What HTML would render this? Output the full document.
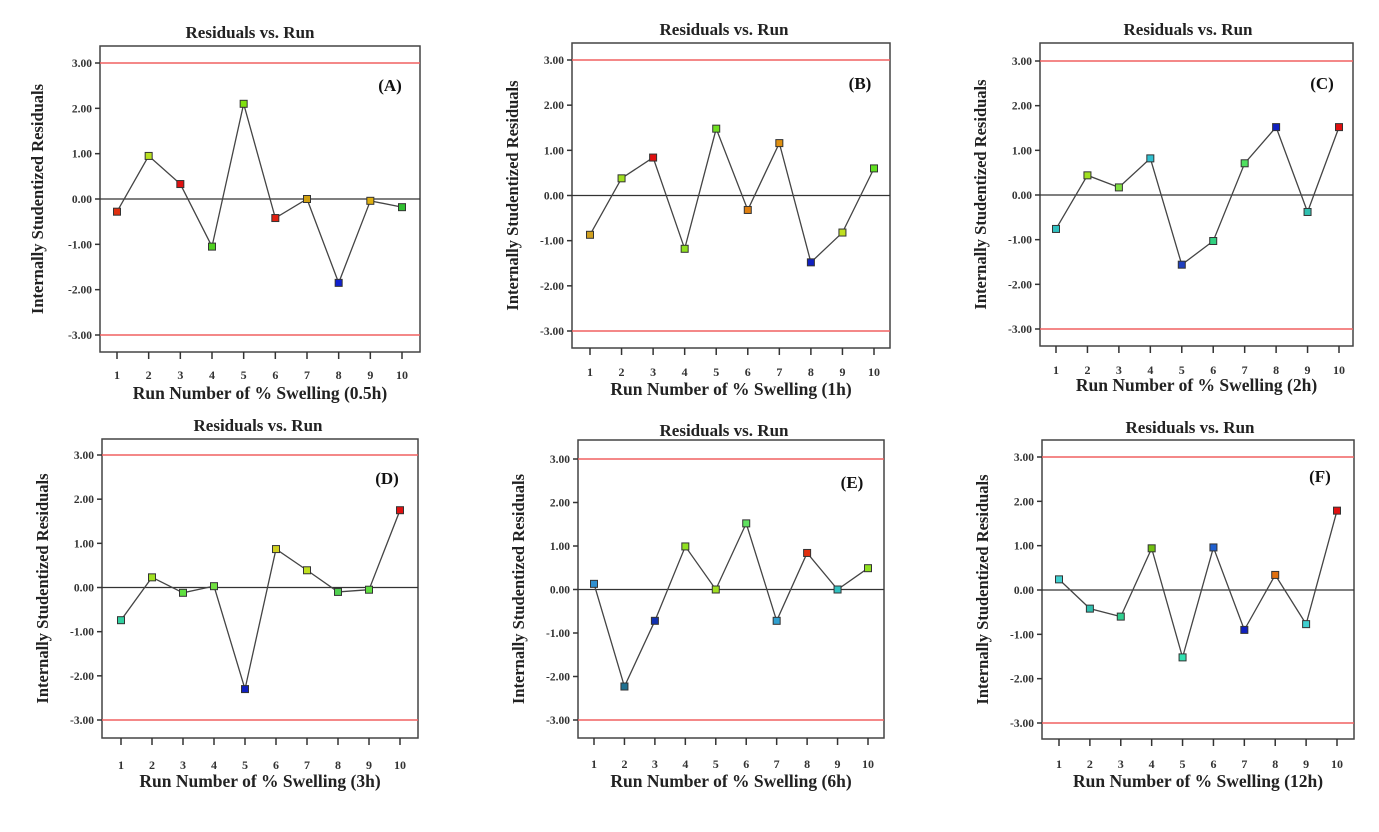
<!DOCTYPE html>
<html><head><meta charset="utf-8"><style>
body{margin:0;background:#fff;width:1379px;height:827px;overflow:hidden}
svg{font-family:"Liberation Serif",serif;font-weight:bold}
</style></head><body>
<svg id="s" width="1379" height="827"></svg>
<script>
const runs=[1,2,3,4,5,6,7,8,9,10];
const yTicks=[3,2,1,0,-1,-2,-3];
const yTickLabels=["3.00","2.00","1.00","0.00","-1.00","-2.00","-3.00"];
const resA=[-0.28,0.95,0.33,-1.05,2.1,-0.42,0,-1.85,-0.04,-0.18];
const resB=[-0.87,0.38,0.84,-1.18,1.48,-0.32,1.16,-1.48,-0.82,0.6];
const resC=[-0.76,0.44,0.17,0.82,-1.56,-1.03,0.71,1.52,-0.38,1.52];
const resD=[-0.74,0.23,-0.12,0.03,-2.3,0.87,0.39,-0.1,-0.05,1.75];
const resE=[0.13,-2.23,-0.72,0.99,0,1.52,-0.72,0.84,0,0.49];
const resF=[0.24,-0.42,-0.6,0.94,-1.52,0.96,-0.9,0.34,-0.77,1.79];
const colA=["#e03010","#b8e020","#e01010","#50d020","#80e010","#e02010","#d0a010","#1020d0","#e0b010","#30c030"];
const colB=["#d0a020","#a0e020","#e01010","#90e020","#70e020","#e08010","#e09010","#1020c0","#c0e020","#60e020"];
const colC=["#30c0c0","#a0e020","#80e040","#30c0d0","#2040c0","#30d080","#50e060","#1020c0","#30c0b0","#e01010"];
const colD=["#30d0a0","#a0e020","#60e040","#70e040","#1020c0","#d0d020","#c0e020","#50d050","#60e040","#e01010"];
const colE=["#3090d0","#207090","#1030b0","#90e020","#a0e020","#60e060","#30a0d0","#e03010","#30c0c0","#90e020"];
const colF=["#40d0d0","#30c0b0","#30d090","#70c010","#30e0b0","#2060d0","#1020c0","#e07010","#40d0d0","#e01010"];
const panels=[
 {id:"a",res:resA,col:colA,L:100,R:420,T:46,B:352,y3:63,ym3:335,x1:117,x10:402,tx:250,ty:38,lx:43,xl:375,xt:399,lab:"(A)",labx:390,laby:91,sub:"(0.5h)"},
 {id:"b",res:resB,col:colB,L:572,R:890,T:43,B:348,y3:60,ym3:331,x1:590,x10:874,tx:724,ty:35,lx:518,xl:372,xt:395,lab:"(B)",labx:860,laby:89,sub:"(1h)"},
 {id:"c",res:resC,col:colC,L:1040,R:1353,T:43,B:346,y3:61,ym3:329,x1:1056,x10:1339,tx:1188,ty:35,lx:986,xl:370,xt:391,lab:"(C)",labx:1322,laby:89,sub:"(2h)"},
 {id:"d",res:resD,col:colD,L:102,R:418,T:439,B:738,y3:455,ym3:720,x1:121,x10:400,tx:258,ty:431,lx:48,xl:765,xt:787,lab:"(D)",labx:387,laby:484,sub:"(3h)"},
 {id:"e",res:resE,col:colE,L:578,R:884,T:440,B:738,y3:459,ym3:720,x1:594,x10:868,tx:724,ty:436,lx:524,xl:764,xt:787,lab:"(E)",labx:852,laby:488,sub:"(6h)"},
 {id:"f",res:resF,col:colF,L:1042,R:1354,T:440,B:739,y3:457,ym3:723,x1:1059,x10:1337,tx:1190,ty:433,lx:988,xl:764,xt:787,lab:"(F)",labx:1320,laby:482,sub:"(12h)"}
];
const NS="http://www.w3.org/2000/svg",S=document.getElementById("s");
function mk(t,a,p,txt){const e=document.createElementNS(NS,t);for(const k in a)e.setAttribute(k,a[k]);if(txt!=null)e.textContent=txt;(p||S).appendChild(e);return e;}
panels.forEach(p=>{
 const g=mk("g",{});
 
 
 const ys=v=>p.y3+(3-v)*(p.ym3-p.y3)/6;
 const xs=r=>p.x1+(r-1)*(p.x10-p.x1)/9;
 const t=mk("text",{x:p.tx,y:p.ty,"text-anchor":"middle","font-size":17,fill:"#222"},g,"Residuals vs. Run");
 
 
 const fr=mk("rect",{x:p.L,y:p.T,width:p.R-p.L,height:p.B-p.T,fill:"none",stroke:"#444","stroke-width":1.5},g);
 
 
 yTicks.forEach((v,i)=>{
  const y=ys(v);
  mk("line",{x1:p.L-5,x2:p.L,y1:y,y2:y,stroke:"#333","stroke-width":1.5},g);
  const tl=mk("text",{x:p.L-8,y:y+4,"text-anchor":"end","font-size":11.5,fill:"#333"},g,yTickLabels[i]);
  
  
 });
 [3,-3].forEach(v=>{const l=mk("line",{x1:p.L,x2:p.R,y1:ys(v),y2:ys(v),stroke:"#f06060","stroke-width":1.5},g);
  
  });
 const z=mk("line",{x1:p.L,x2:p.R,y1:ys(0),y2:ys(0),stroke:"#333","stroke-width":1.2},g);
 
 
 runs.forEach(r=>{
  mk("line",{x1:xs(r),x2:xs(r),y1:p.B,y2:p.B+7,stroke:"#333","stroke-width":1.5},g);
  const xl=mk("text",{x:xs(r),y:p.xl+4,"text-anchor":"middle","font-size":12,fill:"#333"},g,String(r));
  
  
 });
 const pl=mk("polyline",{points:runs.map((r,i)=>xs(r)+","+ys(p.res[i])).join(" "),fill:"none",stroke:"#444","stroke-width":1.3},g);
 
 
 runs.forEach((r,i)=>{
  const m=mk("rect",{x:xs(r)-3.5,y:ys(p.res[i])-3.5,width:7,height:7,fill:p.col[i],stroke:"#333","stroke-width":1},g);
  
  
 });
 const lb=mk("text",{x:p.labx,y:p.laby,"text-anchor":"middle","font-size":17,fill:"#111"},g,p.lab);
 
 
 const xt=mk("text",{x:(p.L+p.R)/2,y:p.xt,"text-anchor":"middle","font-size":17.5,fill:"#222"},g,"Run Number of % Swelling "+p.sub);
 
 
 const cy=(p.T+p.B)/2;
 const yt=mk("text",{x:p.lx,y:cy,"text-anchor":"middle","font-size":16.5,fill:"#222",transform:"rotate(-90 "+p.lx+" "+cy+")"},g,"Internally Studentized Residuals");
 
 
});
</script>
</body></html>
